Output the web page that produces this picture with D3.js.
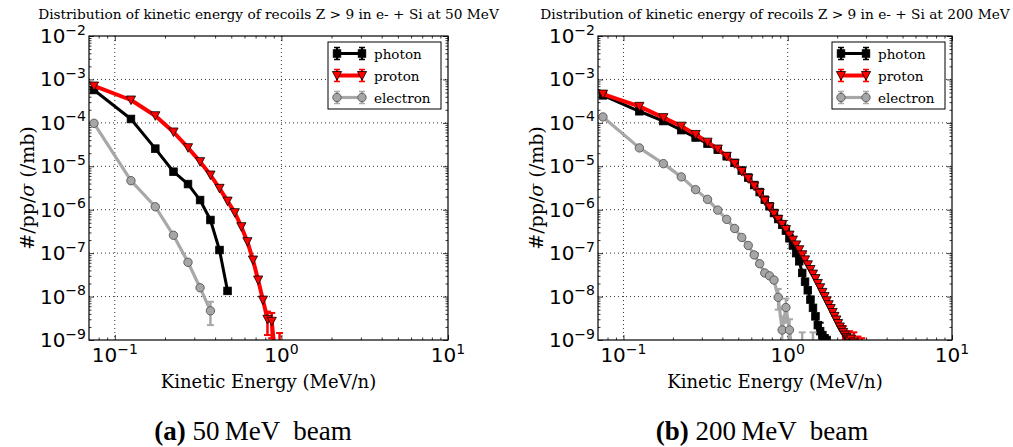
<!DOCTYPE html>
<html>
<head>
<meta charset="utf-8">
<script src="https://cdn.jsdelivr.net/npm/d3@7"></script>
<style>
  body { margin: 0; background: #fff; }
  svg { display: block; }
</style>
</head>
<body>
<div id="main"></div>
<script>
// bin centres in MeV/n (0.05 wide bins)
const binCenters = [0.075, 0.125, 0.175, 0.225, 0.275, 0.325, 0.375, 0.425, 0.475, 0.525,
  0.575, 0.625, 0.675, 0.725, 0.775, 0.825, 0.875, 0.925, 0.975, 1.025,
  1.075, 1.125, 1.175, 1.225, 1.275, 1.325, 1.375, 1.425, 1.475, 1.525,
  1.575, 1.625, 1.675, 1.725, 1.775, 1.825, 1.875, 1.925, 1.975, 2.025,
  2.075, 2.125, 2.175, 2.225, 2.275, 2.325, 2.375, 2.425, 2.475, 2.525,
  2.575, 2.625, 2.675, 2.725, 2.775, 2.825];

// 50 MeV beam
const photon50 = [5.7e-4, 1.23e-4, 2.55e-5, 7.5e-6, 3.9e-6, 1.67e-6, 5.8e-7, 1.18e-7, 1.35e-8];
const proton50 = [7.06e-4, 3.36e-4, 1.46e-4, 6.16e-5, 2.68e-5, 1.28e-5, 6.3e-6, 3.11e-6, 1.58e-6, 8.55e-7,
  4.07e-7, 1.84e-7, 6.95e-8, 2.41e-8, 8.3e-9, 3.0e-9, 2.7e-9, 3e-10, 6e-10];
const electron50 = [9.77e-5, 4.66e-6, 1.17e-6, 2.58e-7, 6.16e-8, 1.6e-8, 4.7e-9];

// 200 MeV beam
const photon200 = [4.3e-4, 1.85e-4, 1.1e-4, 6.8e-5, 4.6e-5, 3.3e-5, 2.4e-5, 1.7e-5, 1.2e-5, 8.0e-6,
  5.5e-6, 3.7e-6, 2.55e-6, 1.7e-6, 1.2e-6, 8.4e-7, 6.1e-7, 4.5e-7, 3.3e-7, 2.2e-7,
  1.5e-7, 1.0e-7, 6.5e-8, 3.5e-8, 2.2e-8, 1.4e-8, 8.5e-9, 5.5e-9, 3.5e-9, 2.2e-9,
  1.6e-9, 1.3e-9, 1.1e-9, 1.0e-9, 8e-10, 6e-10];
const proton200 = [4.6e-4, 2.4e-4, 1.32e-4, 8.4e-5, 5.4e-5, 3.6e-5, 2.5e-5, 1.7e-5, 1.15e-5, 7.6e-6,
  5.2e-6, 3.5e-6, 2.4e-6, 1.6e-6, 1.15e-6, 8.0e-7, 6.0e-7, 4.6e-7, 3.5e-7, 2.6e-7,
  2.0e-7, 1.55e-7, 1.2e-7, 9.2e-8, 7.0e-8, 5.4e-8, 4.2e-8, 3.3e-8, 2.6e-8, 2.0e-8,
  1.6e-8, 1.25e-8, 1.0e-8, 8.0e-9, 6.5e-9, 5.3e-9, 4.3e-9, 3.5e-9, 2.9e-9, 2.4e-9,
  2.0e-9, 1.7e-9, 1.5e-9, 1.3e-9, 1.15e-9, 1.05e-9, 9.5e-10, 1.05e-9, 8e-10, 9e-10,
  6e-10, 7e-10, 4e-10, 3e-10, 2e-10, 5e-10];
const electron200 = [1.37e-4, 2.65e-5, 1.15e-5, 5.7e-6, 2.9e-6, 1.73e-6, 9.8e-7, 6.0e-7, 3.7e-7, 2.3e-7,
  1.5e-7, 9.1e-8, 5.7e-8, 3.5e-8, 3.0e-8, 2.4e-8, 9.6e-9, 1.7e-9, 5.6e-9, 1.7e-9,
  4e-10, 3e-10, 3e-10, 3e-10, 3e-10, 3e-10, 3e-10, 3e-10];

// visible error bars: [energy, low, high]
const protonErr50 = [[0.825, 1.3e-9, 4.5e-9], [0.875, 1.1e-9, 4.2e-9], [0.975, 2e-10, 1.45e-9]];
const electronErr50 = [[0.375, 2.2e-9, 7.6e-9]];
const photonErr200 = [[1.575, 8e-10, 2.5e-9]];
const protonErr200 = [[2.175, 9e-10, 2.1e-9], [2.375, 5e-10, 1.6e-9], [2.525, 3e-10, 1.5e-9],
  [2.675, 1e-10, 1.2e-9], [2.825, 1e-10, 1.1e-9]];
const electronErr200 = [[0.875, 5e-9, 1.5e-8], [0.925, 4e-10, 3.5e-9], [0.975, 2.5e-9, 9e-9],
  [1.025, 4e-10, 3e-9], [1.225, 1e-10, 1.5e-9], [1.425, 1e-10, 1.5e-9]];

const seriesNames = ['photon', 'proton', 'electron'];
const xMajor = [0.1, 1, 10];
const xMinor = [0.08, 0.09, 0.2, 0.3, 0.4, 0.5, 0.6, 0.7, 0.8, 0.9, 2, 3, 4, 5, 6, 7, 8, 9];
const yMajor = [1e-9, 1e-8, 1e-7, 1e-6, 1e-5, 1e-4, 1e-3, 1e-2];

const styles = {
  photon:   { line: '#000000', width: 3,   fill: '#000000', edge: '#000000', shape: 'square' },
  proton:   { line: '#ff0000', width: 4,   fill: '#ff0000', edge: '#000000', shape: 'triangle' },
  electron: { line: '#a8a8a8', width: 3.2, fill: '#a6a6a6', edge: '#555555', shape: 'circle' }
};

const width = 1013, height = 447;
const svg = d3.select('#main').append('svg')
  .attr('width', width).attr('height', height)
  .style('font-family', '"DejaVu Serif", serif');

const panels = [
  { id: 'a', beam: '50', left: 89, right: 448, top: 36, bottom: 340, ylabelX: 34, captionX: 253,
    data: { photon: photon50, proton: proton50, electron: electron50 },
    errs: { photon: [], proton: protonErr50, electron: electronErr50 } },
  { id: 'b', beam: '200', left: 598, right: 952, top: 36, bottom: 340, ylabelX: 543, captionX: 762,
    data: { photon: photon200, proton: proton200, electron: electron200 },
    errs: { photon: photonErr200, proton: protonErr200, electron: electronErr200 } }
];

function drawMarker(g, shape, cx, cy, st) {
  if (shape === 'square') {
    g.append('rect').attr('x', cx - 3.8).attr('y', cy - 3.8).attr('width', 7.6).attr('height', 7.6)
      .attr('fill', st.fill).attr('stroke', st.edge).attr('stroke-width', 0.8);
  } else if (shape === 'triangle') {
    g.append('path').attr('d', `M${cx - 4.6},${cy - 4}L${cx + 4.6},${cy - 4}L${cx},${cy + 4.6}Z`)
      .attr('fill', st.fill).attr('stroke', st.edge).attr('stroke-width', 0.8);
  } else {
    g.append('circle').attr('cx', cx).attr('cy', cy).attr('r', 4.2)
      .attr('fill', st.fill).attr('stroke', st.edge).attr('stroke-width', 0.9);
  }
}

function supLabel(sel, exp) {
  sel.append('tspan').text('10');
  sel.append('tspan').attr('dy', -8.5).attr('font-size', 14).text(exp < 0 ? '\u2212' + (-exp) : exp);
}

panels.forEach(p => {
  const x = d3.scaleLog().domain([0.07, 10]).range([p.left, p.right]);
  const y = d3.scaleLog().domain([1e-9, 1e-2]).range([p.bottom, p.top]);
  const g = svg.append('g');

  g.append('clipPath').attr('id', 'clip-' + p.id)
    .append('rect').attr('x', p.left).attr('y', p.top)
    .attr('width', p.right - p.left).attr('height', p.bottom - p.top);

  // grid
  const grid = g.append('g').attr('stroke', '#000').attr('stroke-width', 0.8).attr('stroke-dasharray', '1,3');
  xMajor.filter(v => v < 10).forEach(v => {
    grid.append('line').attr('x1', x(v)).attr('x2', x(v)).attr('y1', p.top).attr('y2', p.bottom);
  });
  yMajor.slice(1, -1).forEach(v => {
    grid.append('line').attr('x1', p.left).attr('x2', p.right).attr('y1', y(v)).attr('y2', y(v));
  });

  // ticks on all four sides, pointing inward
  const yMinor = [];
  yMajor.slice(0, -1).forEach(d => { for (let k = 2; k <= 9; k++) yMinor.push(d * k); });
  const axes = [
    [d3.axisBottom(x), `translate(0,${p.bottom})`, xMajor, xMinor],
    [d3.axisTop(x), `translate(0,${p.top})`, xMajor, xMinor],
    [d3.axisLeft(y), `translate(${p.left},0)`, yMajor, yMinor],
    [d3.axisRight(y), `translate(${p.right},0)`, yMajor, yMinor]
  ];
  axes.forEach(([ax, tr, major, minor]) => {
    const a1 = g.append('g').attr('transform', tr)
      .call(ax.tickValues(major).tickSize(-5).tickFormat(''));
    a1.select('.domain').remove();
    const a2 = g.append('g').attr('transform', tr)
      .call(ax.tickValues(minor).tickSize(-2.5).tickFormat(''));
    a2.select('.domain').remove();
  });
  g.selectAll('.tick line').attr('stroke', '#000').attr('stroke-width', 0.8);

  // series
  const plot = g.append('g').attr('clip-path', `url(#clip-${p.id})`);
  const line = d3.line().x(d => x(d[0])).y(d => y(d[1]));
  seriesNames.forEach(name => {
    const st = styles[name];
    const pts = p.data[name].map((v, i) => [binCenters[i], v]);
    plot.append('path').datum(pts).attr('d', line)
      .attr('fill', 'none').attr('stroke', st.line).attr('stroke-width', st.width)
      .attr('stroke-linejoin', 'round');
    p.errs[name].forEach(e => {
      const ex = x(e[0]);
      plot.append('line').attr('x1', ex).attr('x2', ex).attr('y1', y(e[1])).attr('y2', y(e[2]))
        .attr('stroke', st.line).attr('stroke-width', 2.5);
      [e[1], e[2]].forEach(v => {
        plot.append('line').attr('x1', ex - 3.5).attr('x2', ex + 3.5).attr('y1', y(v)).attr('y2', y(v))
          .attr('stroke', st.line).attr('stroke-width', 2);
      });
    });
    pts.forEach(d => drawMarker(plot, st.shape, x(d[0]), y(d[1]), st));
  });

  // frame
  g.append('rect').attr('x', p.left).attr('y', p.top)
    .attr('width', p.right - p.left).attr('height', p.bottom - p.top)
    .attr('fill', 'none').attr('stroke', '#000').attr('stroke-width', 1.2);

  // tick labels
  const lab = g.append('g').attr('font-family', '"DejaVu Sans", sans-serif').attr('font-size', 20).attr('fill', '#000');
  xMajor.forEach(v => {
    supLabel(lab.append('text').attr('x', x(v)).attr('y', p.bottom + 22).attr('text-anchor', 'middle'),
      Math.round(Math.log10(v)));
  });
  yMajor.forEach(v => {
    supLabel(lab.append('text').attr('x', p.left - 3).attr('y', y(v) + 7).attr('text-anchor', 'end'),
      Math.round(Math.log10(v)));
  });

  // title and axis labels
  g.append('text').attr('x', (p.left + p.right) / 2).attr('y', 19).attr('text-anchor', 'middle')
    .attr('font-size', 13.7).text(`Distribution of kinetic energy of recoils Z > 9 in e- + Si at ${p.beam} MeV`);
  g.append('text').attr('x', (p.left + p.right) / 2).attr('y', 388).attr('text-anchor', 'middle')
    .attr('font-size', 18).text('Kinetic Energy (MeV/n)');
  const yl = g.append('text').attr('transform', `translate(${p.ylabelX},${(p.top + p.bottom) / 2}) rotate(-90)`)
    .attr('text-anchor', 'middle').attr('font-size', 19);
  yl.append('tspan').text('#/pp/');
  yl.append('tspan').attr('font-style', 'italic').text('\u03c3');
  yl.append('tspan').text(' (/mb)');

  // legend
  const lx = p.right - 120, ly = p.top + 6;
  const leg = g.append('g');
  leg.append('rect').attr('x', lx).attr('y', ly).attr('width', 113).attr('height', 67)
    .attr('fill', '#fff').attr('stroke', '#000').attr('stroke-width', 1);
  seriesNames.forEach((name, i) => {
    const st = styles[name];
    const cy = ly + 11.5 + i * 22;
    const xa = lx + 9, xb = lx + 34;
    leg.append('line').attr('x1', xa).attr('x2', xb).attr('y1', cy).attr('y2', cy)
      .attr('stroke', st.line).attr('stroke-width', st.width);
    [xa, xb].forEach(hx => {
      leg.append('line').attr('x1', hx).attr('x2', hx).attr('y1', cy - 6).attr('y2', cy + 6)
        .attr('stroke', st.line).attr('stroke-width', 2.2);
      [cy - 6, cy + 6].forEach(vy => leg.append('line').attr('x1', hx - 3).attr('x2', hx + 3)
        .attr('y1', vy).attr('y2', vy).attr('stroke', st.line).attr('stroke-width', 1.5));
      drawMarker(leg, st.shape, hx, cy, st);
    });
    leg.append('text').attr('x', lx + 46).attr('y', cy + 5).attr('font-size', 13.5).text(name);
  });

  // sub caption
  const cap = svg.append('text').attr('x', p.captionX).attr('y', 440).attr('text-anchor', 'middle')
    .attr('font-family', '"Liberation Serif", serif').attr('font-size', 27);
  cap.append('tspan').attr('font-weight', 'bold').text(`(${p.id})`);
  cap.append('tspan').text(` ${p.beam}\u2009MeV  beam`).attr('xml:space', 'preserve');
});
</script>
</body>
</html>
